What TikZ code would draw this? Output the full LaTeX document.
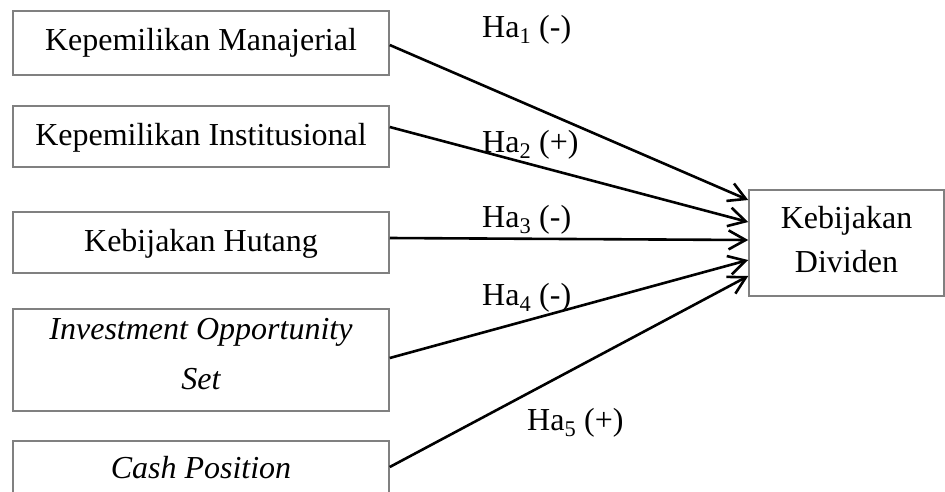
\documentclass[tikz,border=0pt]{standalone}
\usepackage{fontspec}
\setmainfont{Liberation Serif}
\usetikzlibrary{arrows.meta}
\begin{document}
\begin{tikzpicture}[x=1pt,y=-1pt,
  box/.style={draw=black!50, line width=1.5pt, minimum width=376pt, inner sep=0pt, fill=white},
  txt/.style={inner sep=0pt, font=\fontsize{32}{44}\selectfont, align=center},
  lbl/.style={inner sep=0pt, anchor=base west, font=\fontsize{32}{36}\selectfont},
  arr/.style={line width=2.6pt, -{Straight Barb[length=17pt,width=19pt,line width=2.6pt]}}]
\useasboundingbox (0,0) rectangle (945,491);
\fill[white] (0,0) rectangle (945,491);
% boxes
\node[box, minimum height=64pt] (b1) at (201,43) {};
\node[box, minimum height=61pt] (b2) at (201,136.5) {};
\node[box, minimum height=61pt] (b3) at (201,242.5) {};
\node[box, minimum height=102pt] (b4) at (201,360) {};
\node[box, minimum height=64pt] (b5) at (201,473) {};
\node[box, minimum width=195pt, minimum height=106pt] (d) at (846.5,243) {};
% texts
\node[txt] (t1) at (201,42.75) {Kepemilikan Manajerial};
\node[txt] (t2) at (201,137.5) {Kepemilikan Institusional};
\node[txt] (t3) at (201,243.5) {Kebijakan Hutang};
\node[txt, font=\fontsize{32}{50}\selectfont\itshape] (t4) at (201,354.5) {Investment Opportunity\\Set};
\node[txt, font=\fontsize{32}{44}\selectfont\itshape] (t5) at (201,467.5) {Cash Position};
\node[txt] (td) at (846.5,239.5) {Kebijakan\\Dividen};
% arrows
\draw[arr] ([yshift=-2pt]b1.east) -- ([yshift=43pt]d.west);
\draw[arr] ([yshift=9.5pt]b2.east) -- ([yshift=21pt]d.west);
\draw[arr] ([yshift=4.5pt]b3.east) -- ([yshift=3pt]d.west);
\draw[arr] ([yshift=2pt]b4.east) -- ([yshift=-17pt]d.west);
\draw[arr] ([yshift=6pt]b5.east) -- ([yshift=-33pt]d.west);
% labels
\node[lbl] (h1) at (482,37) {Ha\textsubscript{1} (-)};
\node[lbl] (h2) at (482,152) {Ha\textsubscript{2} (+)};
\node[lbl] (h3) at (482,227) {Ha\textsubscript{3} (-)};
\node[lbl] (h4) at (482,305) {Ha\textsubscript{4} (-)};
\node[lbl] (h5) at (527,430) {Ha\textsubscript{5} (+)};
\end{tikzpicture}
\end{document}
